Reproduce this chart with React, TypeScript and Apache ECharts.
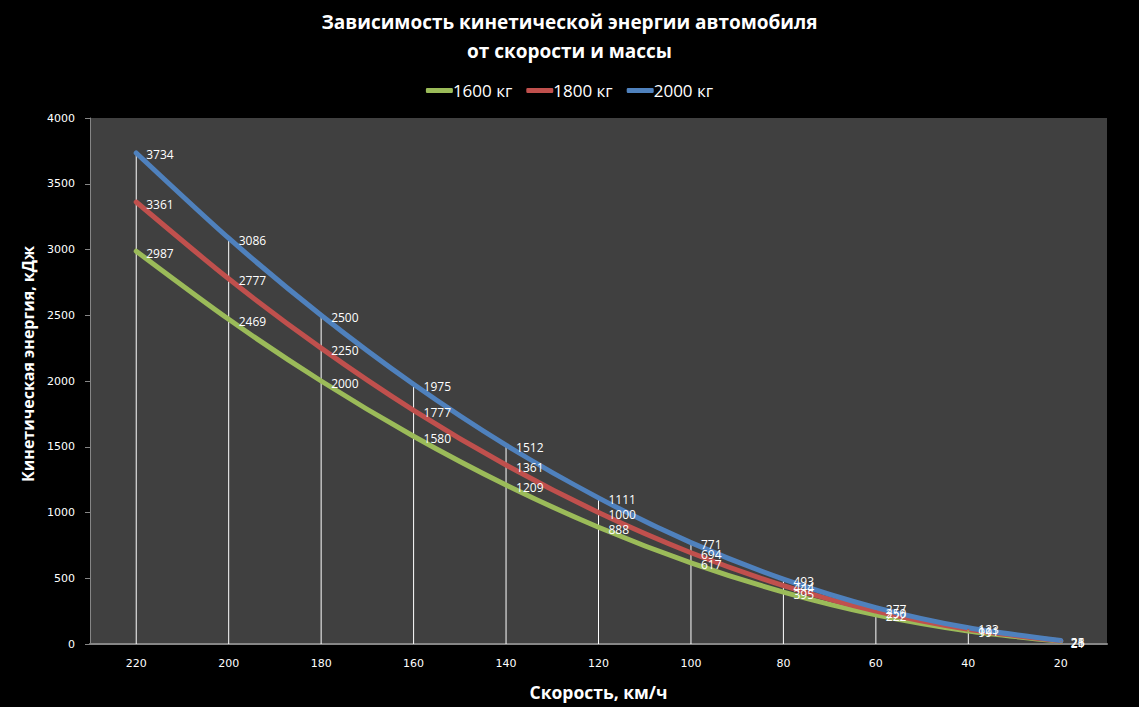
import React, { useEffect, useRef } from "react";
import * as echarts from "echarts";

const speeds = ["220", "200", "180", "160", "140", "120", "100", "80", "60", "40", "20"];
const mass1600 = [2987, 2469, 2000, 1580, 1209, 888, 617, 395, 222, 99, 21];
const mass1800 = [3361, 2777, 2250, 1777, 1361, 1000, 694, 444, 250, 111, 23];
const mass2000 = [3734, 3086, 2500, 1975, 1512, 1111, 771, 493, 277, 123, 26];
const seriesNames = ["1600 кг", "1800 кг", "2000 кг"];
const colors = ["#9BBB59", "#C0504D", "#4F81BD"];

export default function App() {
  const ref = useRef<HTMLDivElement>(null);
  useEffect(() => {
    const chart = echarts.init(ref.current!, null, { renderer: "svg" });
    const dataSets = [mass1600, mass1800, mass2000];
    const lineSeries = dataSets.map((d, i) => ({
      name: seriesNames[i],
      type: "line",
      data: d,
      smooth: 0.25,
      symbol: "circle",
      symbolSize: 2,
      showSymbol: true,
      z: 3,
      lineStyle: { color: colors[i], width: 5, cap: "round" },
      itemStyle: { color: colors[i] },
      label: {
        show: true,
        position: "right",
        distance: 9,
        color: "#ffffff",
        fontFamily: "Open Sans",
        fontSize: 12,
        offset: [0, 2],
      },
    }));
    chart.setOption({
      animation: false,
      backgroundColor: "#000000",
      title: {
        text: "Зависимость кинетической энергии автомобиля\nот скорости и массы",
        left: "center",
        top: 2,
        textStyle: {
          color: "#ffffff",
          fontFamily: "Open Sans",
          fontWeight: "bold",
          fontSize: 19,
          lineHeight: 29,
        },
      },
      legend: {
        top: 77,
        left: "center",
        data: seriesNames,
        icon: "roundRect",
        itemWidth: 27,
        itemHeight: 5,
        itemGap: 14,
        textStyle: { color: "#ffffff", fontFamily: "Open Sans", fontSize: 17, padding: [0, 0, 0, -5] },
      },
      grid: {
        left: 90,
        right: 32,
        top: 118,
        bottom: 63,
        show: true,
        backgroundColor: "#404040",
        borderWidth: 0,
      },
      graphic: [
        {
          type: "text",
          x: 28,
          y: 364,
          rotation: Math.PI / 2,
          style: {
            text: "Кинетическая энергия, кДж",
            fill: "#ffffff",
            font: "bold 16px 'Open Sans'",
            align: "center",
            verticalAlign: "middle",
          },
        },
      ],
      xAxis: {
        type: "category",
        data: speeds,
        boundaryGap: true,
        name: "Скорость, км/ч",
        nameLocation: "middle",
        nameGap: 39,
        nameTextStyle: { color: "#ffffff", fontFamily: "Open Sans", fontWeight: "bold", fontSize: 17.5 },
        axisLine: { lineStyle: { color: "#868686", width: 2 } },
        axisTick: { show: false },
        axisLabel: { color: "#ffffff", fontFamily: "DejaVu Sans", fontSize: 11, margin: 14 },
        splitLine: { show: false },
      },
      yAxis: {
        type: "value",
        min: 0,
        max: 4000,
        interval: 500,
        axisLine: { show: true, lineStyle: { color: "#868686", width: 1 } },
        axisTick: { show: true, length: 5, lineStyle: { color: "#868686" } },
        axisLabel: {
          color: "#ffffff",
          fontFamily: "DejaVu Sans",
          fontSize: 11,
          margin: 15,
          formatter: (v: number) => String(v),
        },
        splitLine: { show: false },
      },
      series: [
        {
          name: "drop",
          type: "bar",
          data: mass2000,
          barWidth: 1,
          silent: true,
          z: 1,
          itemStyle: { color: "#ffffff" },
          legendHoverLink: false,
        },
        ...lineSeries,
      ],
    });
    return () => chart.dispose();
  }, []);
  return <div ref={ref} style={{ width: 1139, height: 707, position: "absolute", left: 0, top: 0 }} />;
}
